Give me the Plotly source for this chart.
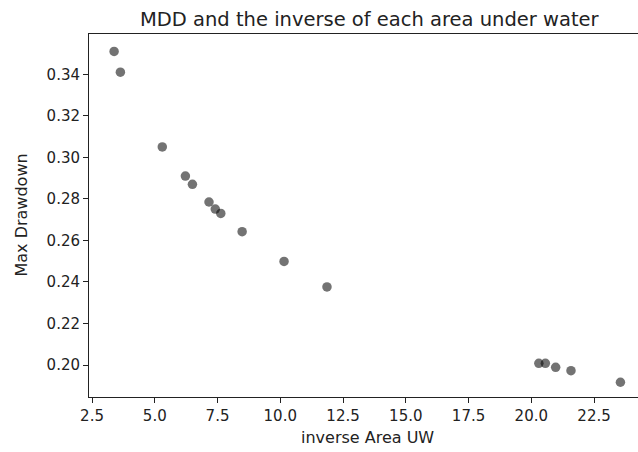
import plotly.graph_objects as go

# Data
inverse_area_uw = [3.38, 3.63, 5.30, 6.22, 6.50, 7.16, 7.41, 7.63, 8.48, 10.15,
                   11.86, 20.30, 20.56, 20.97, 21.58, 23.55]
max_drawdown = [0.351, 0.341, 0.305, 0.291, 0.287, 0.2785, 0.2751, 0.2730, 0.2642,
                0.2499, 0.2376, 0.2008, 0.2008, 0.1989, 0.1973, 0.1917]

title_text = "MDD and the inverse of each area under water"
x_label = "inverse Area UW"
y_label = "Max Drawdown"

W, H = 638, 452
L, R, T, B = 89, 0, 34, 55
pw = W - L - R
ph = H - T - B

def px_x(p):
    return (p - L) / pw

def px_y(p):
    return (H - B - p) / ph

font = "DejaVu Sans"

fig = go.Figure()
fig.add_trace(go.Scatter(
    x=inverse_area_uw, y=max_drawdown, mode="markers",
    marker=dict(size=9.5, color="rgba(0,0,0,0.55)", line=dict(width=0)),
    showlegend=False, hoverinfo="skip"))

fig.update_layout(
    width=W, height=H,
    margin=dict(l=L, r=R, t=T, b=B),
    paper_bgcolor="white", plot_bgcolor="white",
    font=dict(family=font, size=15, color="#222"),
    xaxis=dict(range=[2.38, 24.25], tick0=2.5, dtick=2.5, tickformat=".1f",
               showgrid=False, zeroline=False, showline=True, mirror=True,
               linecolor="#222", linewidth=1, ticks="outside", ticklen=5,
               tickwidth=1, tickcolor="#222", tickfont=dict(size=15, color="#222")),
    yaxis=dict(range=[0.1846, 0.3594], tick0=0.20, dtick=0.02, tickformat=".2f",
               showgrid=False, zeroline=False, showline=True, mirror=False,
               linecolor="#222", linewidth=1, ticks="outside", ticklen=5,
               tickwidth=1, tickcolor="#222", tickfont=dict(size=15, color="#222")),
    annotations=[
        dict(text=title_text, xref="paper", yref="paper", x=px_x(370), y=1,
             xanchor="center", yanchor="bottom", yshift=1, showarrow=False,
             font=dict(family=font, size=19.5, color="#222")),
        dict(text=x_label, xref="paper", yref="paper", x=px_x(367), y=px_y(437),
             xanchor="center", yanchor="middle", showarrow=False,
             font=dict(family=font, size=16, color="#222")),
        dict(text=y_label, xref="paper", yref="paper", x=px_x(21), y=0.5,
             xanchor="center", yanchor="middle", textangle=-90, showarrow=False,
             font=dict(family=font, size=16, color="#222")),
    ],
)

fig.write_html("out.html")
